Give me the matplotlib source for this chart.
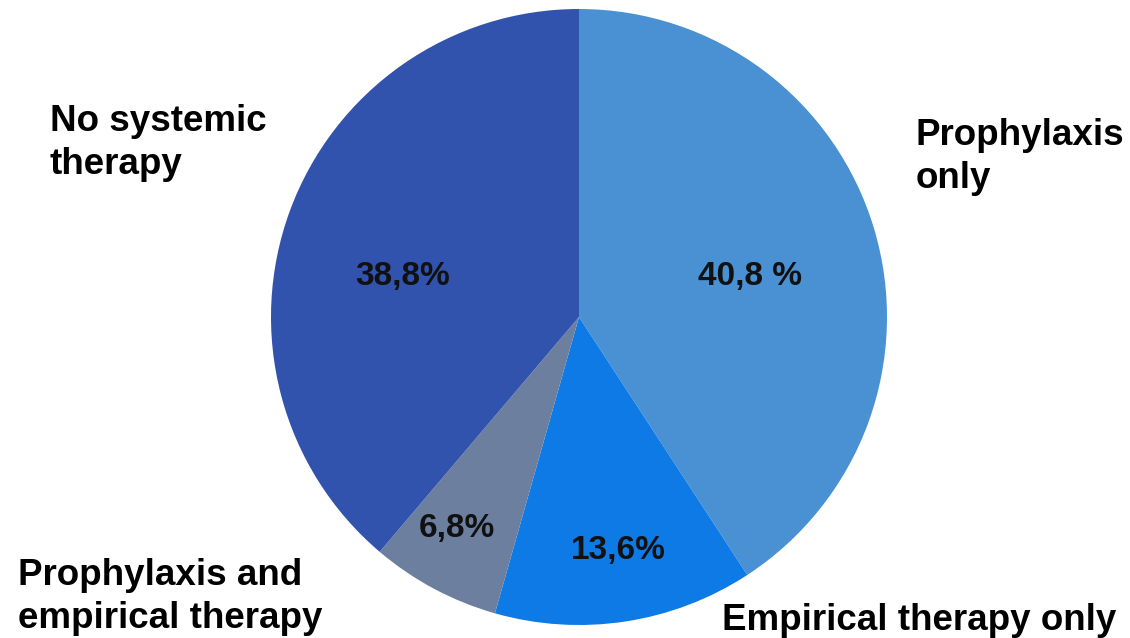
import matplotlib
matplotlib.use('Agg')
import matplotlib.pyplot as plt
import numpy as np

categories = ["Prophylaxis\nonly", "Empirical therapy only",
              "Prophylaxis and\nempirical therapy", "No systemic\ntherapy"]
shares = [40.8, 13.6, 6.8, 38.8]
pct_labels = ["40,8 %", "13,6%", "6,8%", "38,8%"]
colors = ['#4a91d3', '#0e7ae6', '#6c7f9f', '#3253ad']

W, H = 1130, 638
plt.rcParams['font.family'] = ['Liberation Sans', 'DejaVu Sans']

fig = plt.figure(figsize=(W / 100, H / 100), dpi=100)
fig.patch.set_facecolor('white')

# pie centre / radius in pixels
cx, cy, r = 579, 317, 308
ax = fig.add_axes([(cx - r) / W, (H - cy - r) / H, 2 * r / W, 2 * r / H])
wedges, _ = ax.pie(shares, colors=colors, startangle=90, counterclock=False,
                   radius=1, wedgeprops=dict(linewidth=0))
ax.set_xlim(-1, 1)
ax.set_ylim(-1, 1)
ax.set_aspect('equal')
ax.axis('off')

# percent labels, placed in pixel space
pct_px = [(750, 277), (618, 550), (457, 528), (403, 277)]
for txt, (px, py) in zip(pct_labels, pct_px):
    fig.text(px / W, 1 - py / H, txt, ha='center', va='center',
             fontsize=24, fontweight='bold', color='#111111')

# outside category labels
cat_px = [(916, 157, 'left'), (722, 620, 'left'), (18, 597, 'left'), (50, 143, 'left')]
for txt, (px, py, ha) in zip(categories, cat_px):
    fig.text(px / W, 1 - py / H, txt, ha=ha, va='center', fontsize=26.5,
             fontweight='bold', color='black', linespacing=1.3)

fig.savefig('out.png', dpi=100, facecolor='white')
